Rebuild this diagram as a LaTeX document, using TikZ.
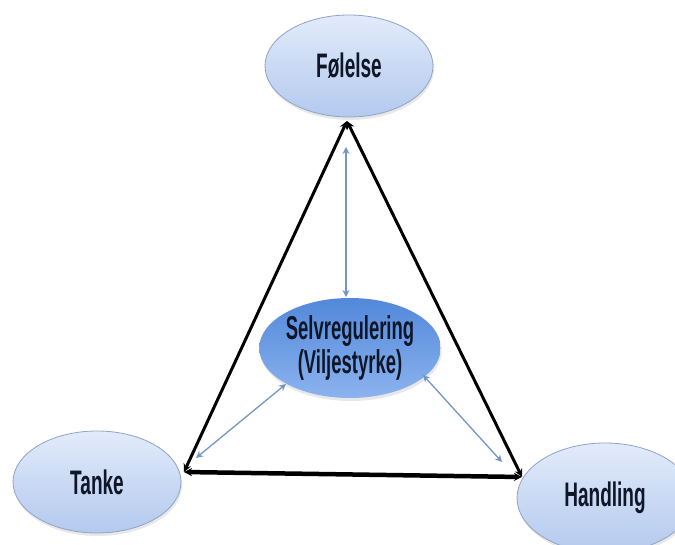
\documentclass[tikz,border=0pt]{standalone}
\usepackage{fontspec}
\newfontfamily\labfont{Liberation Sans}
\usetikzlibrary{shapes.geometric,arrows.meta,shadows}
\definecolor{lightA}{HTML}{E2EBFA}
\definecolor{lightB}{HTML}{B3C9EE}
\definecolor{lightEdge}{HTML}{8FA4C4}
\definecolor{midA}{HTML}{5288DA}
\definecolor{midB}{HTML}{8CB3EE}
\definecolor{bluearr}{HTML}{7596C4}
\definecolor{txt}{HTML}{0E1628}
\newcommand{\ntext}[1]{\scalebox{0.56}[1]{#1}}
\tikzset{
  outer/.style={ellipse, draw=lightEdge, line width=0.8pt, top color=lightA, bottom color=lightB,
    minimum width=168pt, minimum height=102pt, inner sep=0pt, text=txt,
    font=\labfont\bfseries\fontsize{34}{38}\selectfont,
    drop shadow={opacity=0.18, shadow xshift=1pt, shadow yshift=-3pt}},
  inner/.style={ellipse, draw=none, top color=midB, bottom color=midA, shading angle=180,
    minimum width=165pt, minimum height=100pt, inner sep=0pt, text=txt, align=center,
    font=\labfont\bfseries\fontsize{33}{36}\selectfont,
    drop shadow={opacity=0.18, shadow xshift=1pt, shadow yshift=-3pt}},
  blackarr/.style={draw=black, line width=3pt, {Stealth[length=8pt,width=8pt]}-{Stealth[length=8pt,width=8pt]}},
  bluearrow/.style={draw=bluearr, line width=1.3pt, {Stealth[length=7pt,width=7pt]}-{Stealth[length=7pt,width=7pt]}}
}
\begin{document}
\begin{tikzpicture}[x=1pt,y=-1pt]
\useasboundingbox (0,0) rectangle (675,544);
\fill[white] (0,0) rectangle (675,544);
\clip (0,0) rectangle (675,544);
\node[outer] (fol) at (349,66) {\ntext{Følelse}};
\node[outer] (tan) at (97,482) {\ntext{Tanke}};
\node[outer, minimum width=176pt, minimum height=110pt] (han) at (605,498) {\ntext{Handling}};
\node[inner] (sel) at (350,348) {\ntext{Selvregulering}\\[-2pt]\ntext{(Viljestyrke)}};
% triangle vertices
\coordinate (T) at (347,121);
\coordinate (L) at (184,472);
\coordinate (R) at (522,477);
\draw[blackarr] (T) -- (L);
\draw[blackarr] (T) -- (R);
\draw[blackarr, line width=4.5pt] (L) -- (R);
% blue arrows
\coordinate (bT1) at (346,147);
\coordinate (bT2) at (346,297);
\coordinate (bL1) at (196,458);
\coordinate (bL2) at (286,384);
\coordinate (bR1) at (423,375);
\coordinate (bR2) at (502,462);
\draw[bluearrow] (bT1) -- (bT2);
\draw[bluearrow] (bL1) -- (bL2);
\draw[bluearrow] (bR1) -- (bR2);
\end{tikzpicture}
\end{document}
